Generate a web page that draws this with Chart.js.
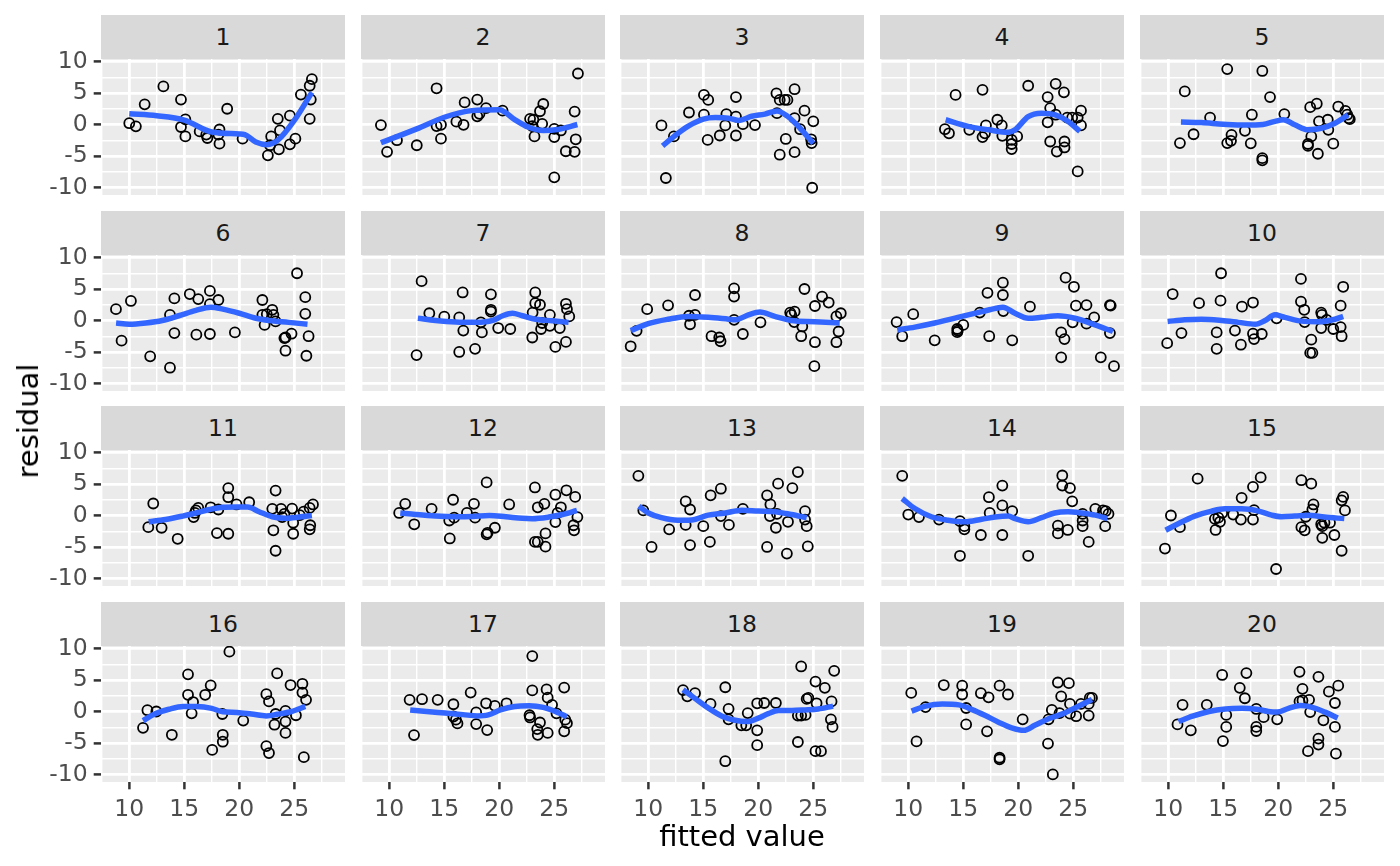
<!DOCTYPE html>
<html>
<head>
<meta charset="utf-8">
<script src="https://cdn.jsdelivr.net/npm/chart.js@4.4.1/dist/chart.umd.min.js"></script>
<style>
    html, body { margin: 0; background: #ffffff; }
    #plot { position: relative; width: 1400px; height: 866px; overflow: hidden; font-family: 'DejaVu Sans', sans-serif; }
    .strip { position: absolute; background: #D9D9D9; color: #1A1A1A; font-size: 23.5px; display: flex; align-items: center; justify-content: center; }
    canvas { position: absolute; }
    .title { position: absolute; color: #000000; font-size: 29px; white-space: nowrap; transform: translate(-50%, -50%); }
</style>
</head>
<body>
<div id="plot"></div>
<script>
// fitted values (x) and residuals (y) per panel, plus the smooth curve
const fit01 = [10.0, 10.6, 11.4, 13.1, 14.7, 14.7, 15.1, 15.1, 16.4, 17.0, 17.1, 18.1, 18.2, 18.2, 18.9, 20.3, 22.6, 22.8, 22.9, 23.5, 23.6, 23.7, 24.6, 24.6, 25.1, 25.6, 26.4, 26.6, 26.5, 26.4]
const res01 = [0.2, -0.3, 3.2, 6.05, 3.95, -0.4, 0.8, -1.9, -1.1, -1.6, -2.15, -1.6, -0.8, -3.05, 2.5, -2.25, -4.9, -3.3, -1.9, 0.9, -3.95, -0.95, 1.4, -3.15, -2.25, 4.75, 6.15, 7.2, 3.95, 0.9]
const smx01 = [10.0, 12.5, 15.0, 17.5, 20.0, 20.5, 21.5, 22.5, 23.5, 25.1, 26.6]
const smy01 = [1.7, 1.4, 0.7, -1.2, -1.5, -1.6, -2.8, -3.2, -2.5, 0.9, 5.1]

const fit02 = [9.24, 9.8, 10.7, 12.5, 14.3, 14.3, 14.7, 14.7, 16.1, 16.75, 16.85, 18.0, 18.0, 18.2, 18.8, 20.3, 22.8, 23.0, 23.1, 23.2, 23.7, 24.0, 23.9, 25.0, 25.0, 25.0, 25.6, 26.05, 26.85, 26.95, 26.85, 27.15]
const res02 = [-0.1, -4.35, -2.5, -3.3, 5.75, -0.25, -0.05, -2.25, 0.45, -0.05, 3.5, 3.95, 1.3, 1.7, 2.6, 2.2, 0.9, -0.25, 0.75, -1.9, 2.1, 3.25, 0.1, -0.7, -2.0, -8.4, -0.95, -4.25, -4.35, -2.35, 2.05, 8.1]
const smx02 = [9.24, 12.5, 15.0, 17.5, 20.0, 21.3, 22.6, 24.0, 25.3, 27.1]
const smy02 = [-2.9, -0.7, 1.15, 2.2, 2.35, 0.9, -0.4, -0.95, -0.8, 0.0]

const fit03 = [11.2, 12.33, 11.6, 13.7, 15.06, 15.45, 15.06, 15.4, 16.5, 17.0, 17.1, 17.97, 17.97, 17.97, 18.6, 19.7, 21.65, 21.7, 21.95, 22.4, 22.65, 23.3, 23.3, 24.2, 25.0, 23.8, 22.5, 21.95, 23.3, 24.8, 24.85, 24.9]
const res03 = [-0.15, -1.9, -8.5, 1.9, 4.7, 3.9, 1.55, -2.45, -1.75, -0.15, 1.65, 4.35, 1.25, -1.75, 0.05, -0.1, 4.95, 1.8, 3.9, 3.9, 3.9, 5.6, 1.0, 2.2, 0.5, -0.75, -2.3, -4.8, -4.4, -2.35, -2.95, -10.05]
const smx03 = [11.3, 12.4, 13.6, 15.0, 16.1, 17.3, 18.2, 19.4, 20.6, 21.7, 22.7, 23.8, 25.0]
const smy03 = [-3.4, -1.8, -0.3, 0.85, 1.1, 1.0, 0.65, 1.3, 1.65, 2.15, 1.25, -0.6, -3.0]

const fit04 = [13.33, 13.7, 14.3, 15.55, 16.75, 16.75, 16.97, 17.06, 18.1, 18.5, 18.55, 19.4, 19.4, 19.4, 19.9, 20.9, 22.67, 23.4, 24.15, 22.9, 23.4, 22.67, 24.45, 24.9, 25.4, 25.7, 25.7, 22.9, 23.5, 24.2, 24.2, 25.4]
const res04 = [-0.75, -1.4, 4.7, -0.85, 5.5, -2.0, -1.4, -0.15, 0.75, -0.15, -1.8, -2.45, -3.1, -3.9, -1.9, 6.15, 4.35, 6.45, 5.1, 2.6, 1.55, 0.35, 1.1, 1.1, 1.1, 2.2, -0.15, -2.7, -4.3, -2.7, -3.65, -7.45]
const smx04 = [13.4, 15.45, 17.3, 19.1, 19.7, 20.9, 22.1, 23.3, 24.5, 25.6]
const smy04 = [0.75, -0.3, -0.85, -1.25, -0.85, 1.25, 1.8, 1.55, 0.5, -1.1]

const fit05 = [11.06, 11.5, 12.3, 13.8, 15.36, 15.36, 15.7, 15.75, 16.97, 17.6, 17.5, 18.55, 18.55, 18.55, 19.25, 20.55, 22.9, 23.5, 23.0, 22.7, 22.7, 23.6, 23.7, 24.5, 24.55, 25.0, 25.45, 26.1, 26.27, 26.4, 26.5]
const res05 = [-2.95, 5.25, -1.55, 1.1, 8.8, -2.95, -2.6, -1.65, -1.0, 1.55, -3.0, 8.5, -5.35, -5.7, 4.35, 1.65, 2.75, 3.3, -1.9, -3.1, -3.4, -4.65, 0.5, 0.75, -0.85, -3.05, 2.85, 2.15, 1.55, 1.0, 0.85]
const smx05 = [11.15, 13.0, 15.0, 16.97, 18.6, 19.7, 20.45, 21.5, 22.7, 23.9, 25.15, 26.35]
const smy05 = [0.4, 0.3, 0.05, -0.1, 0.0, 0.5, 0.75, -0.05, -0.85, -0.6, 0.2, 1.55]

const fit06 = [8.79, 9.3, 10.15, 11.9, 13.7, 13.7, 14.1, 14.1, 15.5, 16.27, 16.1, 17.33, 17.33, 18.1, 17.33, 19.6, 22.1, 22.1, 22.3, 22.5, 23.0, 23.1, 23.3, 24.1, 24.2, 24.2, 24.75, 25.25, 26.0, 26.0, 26.3, 26.1]
const res06 = [1.8, -3.2, 3.1, -5.7, 0.9, -7.5, 3.5, -2.0, 4.2, 3.4, -2.25, 4.7, 2.6, 3.25, -2.15, -1.9, 3.25, 0.9, -0.7, 1.0, 1.7, 0.9, -0.15, -2.8, -2.7, -4.8, -2.1, 7.5, 3.7, 1.05, -2.5, -5.6]
const smx06 = [8.8, 10.0, 11.5, 13.0, 14.5, 16.06, 17.4, 18.5, 20.0, 21.5, 22.7, 24.5, 26.2]
const smy06 = [-0.4, -0.6, -0.4, 0.0, 0.75, 1.6, 2.1, 1.8, 1.15, 0.35, 0.0, -0.3, -0.6]

const fit07 = [12.48, 12.94, 13.64, 15.0, 16.36, 16.67, 16.73, 16.36, 17.8, 18.33, 18.42, 19.24, 19.24, 19.24, 19.9, 21.0, 23.27, 23.27, 23.7, 23.03, 23.9, 23.8, 24.6, 24.6, 23.0, 25.1, 25.5, 26.06, 26.15, 26.36, 26.06]
const res07 = [-5.5, 6.25, 1.15, 0.6, 0.5, 4.45, -1.6, -5.0, -4.5, -0.3, -1.9, 4.15, 1.7, 1.4, -1.2, -1.35, 4.45, 2.75, 2.5, 1.25, -0.4, -1.35, 0.9, -0.85, -2.7, -4.2, -1.2, 2.65, 1.8, 0.65, -3.4]
const smx07 = [12.6, 14.2, 16.06, 17.9, 19.4, 20.3, 21.2, 22.1, 23.3, 24.8, 26.3]
const smy07 = [0.35, 0.0, -0.25, -0.3, 0.0, 0.75, 1.15, 0.75, 0.2, -0.05, -0.3]

const fit08 = [8.4, 8.94, 9.9, 11.8, 13.7, 13.8, 14.25, 14.25, 15.75, 16.45, 16.57, 17.8, 17.8, 17.8, 18.6, 20.2, 22.9, 23.3, 23.0, 23.27, 24.0, 23.9, 24.2, 25.15, 25.8, 26.4, 25.15, 25.1, 27.1, 27.5, 27.3, 27.1]
const res08 = [-4.1, -1.65, 1.8, 2.4, 0.75, -0.6, 4.05, 0.9, -2.5, -2.7, -3.3, 5.1, 3.8, 0.1, -2.15, -0.3, 1.25, 1.4, 0.9, -0.25, -0.95, -2.5, 5.0, 2.3, 3.8, 2.85, -3.45, -7.25, 0.65, 1.15, -1.75, -3.45]
const smx08 = [8.4, 10.0, 11.8, 13.6, 15.45, 17.3, 17.9, 19.1, 20.15, 21.5, 23.0, 25.15, 27.4]
const smy08 = [-1.6, -0.5, 0.2, 0.65, 0.5, 0.2, 0.1, 0.9, 1.35, 0.65, 0.0, -0.2, -0.4]

const fit09 = [8.94, 9.45, 10.45, 12.4, 14.45, 14.45, 14.5, 15.0, 16.5, 17.36, 17.2, 18.6, 18.6, 18.64, 19.45, 21.06, 24.3, 25.06, 25.24, 26.2, 24.94, 26.2, 26.9, 23.9, 24.2, 23.9, 27.5, 28.33, 28.4, 28.33, 28.7]
const res09 = [-0.25, -2.5, 1.0, -3.15, -1.35, -1.85, -1.6, -0.7, 1.25, -2.5, 4.4, 6.0, 4.05, 1.5, -3.15, 2.2, 6.8, 5.35, 2.35, 2.45, -0.3, -0.5, 0.5, -1.9, -2.95, -5.85, -5.85, 2.45, 2.35, -2.0, -7.25]
const smx09 = [9.0, 10.6, 12.4, 14.5, 16.67, 18.0, 18.6, 19.7, 20.9, 22.1, 23.6, 25.15, 26.97, 28.6]
const smy09 = [-1.5, -1.05, -0.4, 0.5, 1.4, 1.95, 2.1, 1.15, 0.35, 0.5, 0.75, 0.35, -0.7, -1.75]

const fit10 = [9.9, 10.4, 11.2, 12.8, 14.4, 14.4, 14.8, 14.75, 16.06, 16.6, 16.7, 17.7, 17.7, 17.8, 18.5, 19.85, 22.06, 22.06, 22.36, 22.4, 23.0, 22.9, 23.1, 23.9, 23.97, 24.4, 23.9, 25.0, 25.67, 25.9, 25.67, 25.76]
const res10 = [-3.6, 4.2, -2.0, 2.75, -1.9, -4.5, 7.5, 3.15, -1.6, -3.85, 2.2, 2.85, -2.1, -2.95, -2.15, 0.35, 6.6, 3.0, 1.7, -0.25, -3.05, -5.15, -5.15, 1.25, 0.9, 0.1, -1.2, -1.35, 2.35, 5.35, -1.05, -2.5]
const smx10 = [9.94, 11.5, 13.0, 14.85, 16.4, 17.9, 18.8, 19.7, 20.6, 22.1, 23.6, 25.15, 25.9]
const smy10 = [-0.15, 0.1, 0.2, 0.0, -0.3, -0.6, 0.0, 0.9, 0.5, -0.1, -0.2, 0.2, 0.65]

const fit11 = [11.73, 12.18, 12.94, 14.4, 15.85, 15.97, 16.06, 16.27, 17.4, 18.1, 17.97, 19.0, 19.0, 19.0, 19.75, 20.9, 23.0, 23.3, 23.1, 23.3, 23.8, 23.9, 24.1, 24.8, 24.9, 24.9, 25.5, 25.85, 26.4, 26.7, 26.45, 26.4]
const res11 = [-1.85, 1.9, -1.95, -3.7, -0.25, 0.4, 0.8, 1.2, 1.3, 0.95, -2.8, 4.35, 2.9, -2.9, 1.75, 2.1, 1.05, 3.95, -2.35, -5.6, 1.05, -0.25, 0.25, 1.1, -1.15, -2.9, 0.05, 0.6, 1.2, 1.75, -1.55, -2.2]
const smx11 = [11.76, 13.3, 14.85, 16.06, 17.3, 18.5, 19.7, 20.75, 21.8, 23.0, 24.2, 25.45, 26.6]
const smy11 = [-1.0, -0.65, -0.1, 0.4, 0.95, 1.3, 1.35, 1.35, 0.6, -0.2, -0.45, -0.25, 0.0]

const fit12 = [10.9, 11.45, 12.27, 13.85, 15.45, 15.5, 15.8, 15.9, 17.06, 17.7, 17.8, 18.85, 18.85, 18.94, 19.6, 20.9, 23.24, 23.5, 24.1, 23.24, 23.5, 24.2, 24.2, 25.1, 25.6, 25.3, 25.1, 26.1, 26.9, 27.1, 26.75, 26.8]
const res12 = [0.4, 1.85, -1.4, 1.05, -0.8, -3.65, 2.5, -0.35, 0.4, 1.85, -0.35, 5.25, -3.0, -2.75, -1.95, 1.75, 4.45, 1.3, 1.85, -4.2, -4.2, -2.85, -4.95, 3.3, 1.3, 0.4, -1.05, 4.0, 2.95, -0.25, -1.55, -2.35]
const smx12 = [11.0, 12.4, 14.2, 16.06, 17.6, 19.1, 20.6, 22.1, 23.0, 24.5, 25.75, 27.06]
const smy12 = [0.4, 0.15, -0.1, -0.2, -0.15, 0.0, -0.2, -0.45, -0.5, -0.25, 0.15, 0.8]

const fit13 = [9.1, 9.55, 10.3, 11.9, 13.4, 13.4, 13.8, 13.8, 15.0, 15.6, 15.67, 16.6, 16.6, 17.33, 18.6, 20.8, 21.1, 21.06, 21.7, 21.8, 21.6, 22.7, 23.1, 23.6, 20.8, 22.6, 24.25, 24.25, 24.4, 24.5]
const res13 = [6.3, 0.8, -5.0, -2.2, 2.25, -1.5, 0.95, -4.7, -1.7, -4.2, 3.2, 4.25, -0.1, -1.5, 1.05, 3.2, 1.75, -0.1, 0.25, 5.05, -1.95, -1.0, 4.35, 6.9, -5.0, -6.05, 0.7, -0.65, -1.7, -4.9]
const smx13 = [9.15, 10.0, 11.2, 12.7, 13.94, 15.45, 17.0, 18.5, 20.0, 21.5, 23.0, 24.4]
const smy13 = [1.45, 0.4, -0.35, -0.75, -0.7, 0.05, 0.4, 0.85, 0.7, 0.6, 0.15, -0.35]

const fit14 = [9.45, 10.0, 10.97, 12.8, 14.7, 14.7, 15.1, 15.1, 16.6, 17.33, 17.4, 18.55, 18.55, 18.55, 19.45, 20.9, 24.0, 24.0, 24.7, 24.9, 23.6, 23.6, 24.5, 25.85, 25.85, 25.85, 26.4, 27.0, 27.7, 27.95, 28.2, 27.9]
const res14 = [6.3, 0.15, -0.25, -0.65, -0.9, -6.4, -1.7, -2.2, -3.1, 2.9, 0.4, 4.75, 1.6, -3.1, 0.7, -6.4, 6.35, 4.75, 4.35, 2.25, -1.6, -2.85, -2.3, 0.25, -0.8, -1.7, -4.2, 1.05, 0.8, 0.7, 0.25, -1.7]
const smx14 = [9.45, 10.6, 12.1, 13.6, 15.15, 16.67, 17.9, 19.1, 19.7, 20.9, 22.1, 23.3, 24.5, 25.75, 27.0, 28.1]
const smy14 = [2.7, 1.1, -0.2, -0.75, -1.0, -0.6, -0.25, -0.1, -0.5, -1.0, -0.35, 0.4, 0.6, 0.4, 0.05, -0.5]

const fit15 = [9.7, 10.24, 11.06, 12.67, 14.24, 14.3, 14.55, 14.7, 14.9, 15.9, 16.6, 16.67, 17.7, 18.4, 17.8, 17.7, 19.8, 22.1, 23.0, 23.2, 23.1, 22.5, 22.1, 22.4, 23.9, 24.0, 24.2, 24.7, 24.0, 25.1, 25.76, 25.76, 25.9, 26.06]
const res15 = [-5.25, 0.0, -1.85, 5.85, -0.55, -2.3, -0.35, -1.0, 0.4, 0.15, -0.65, 2.8, 4.55, 6.05, 0.85, -0.65, -8.5, 5.6, 5.05, 1.75, 0.95, -0.2, -1.85, -2.35, -1.4, -1.7, -1.15, -1.15, -3.55, -3.1, -5.6, 2.4, 2.95, 0.8]
const smx15 = [9.76, 10.9, 12.4, 13.94, 15.15, 16.67, 18.2, 19.4, 20.3, 21.5, 22.7, 24.2, 26.0]
const smy15 = [-2.35, -1.3, -0.1, 0.7, 1.05, 1.05, 0.7, 0.05, -0.2, -0.1, 0.05, -0.25, -0.5]

const fit16 = [11.25, 11.65, 12.46, 13.87, 15.34, 15.34, 15.8, 15.67, 16.9, 17.4, 17.54, 18.46, 18.5, 18.5, 19.1, 20.36, 22.46, 22.7, 22.46, 22.7, 23.2, 23.3, 23.44, 24.2, 24.2, 24.2, 24.66, 25.15, 25.74, 25.74, 26.07, 25.87]
const res16 = [-2.6, 0.2, 0.0, -3.7, 5.9, 2.65, 1.5, -0.3, 2.65, 4.15, -6.1, -0.4, -3.7, -4.8, 9.5, -1.45, 2.75, 1.6, -5.5, -6.6, -2.1, -0.4, 6.05, 0.1, -1.6, -3.4, 4.2, -0.6, 4.4, 3.0, 1.85, -7.25]
const smx16 = [11.25, 12.3, 13.6, 14.9, 16.2, 17.5, 18.5, 19.8, 21.1, 22.46, 23.44, 24.75, 26.0]
const smy16 = [-1.45, -0.4, 0.35, 0.8, 0.8, 0.5, -0.05, -0.15, -0.4, -0.7, -0.45, 0.0, 0.8]

const fit17 = [11.85, 12.25, 12.98, 14.4, 15.83, 15.83, 16.06, 16.2, 17.4, 17.9, 17.9, 18.8, 18.9, 19.6, 20.66, 22.75, 22.8, 23.0, 23.0, 23.7, 23.45, 23.5, 24.3, 24.4, 24.4, 24.8, 25.2, 25.9, 26.0, 25.9, 26.15]
const res17 = [1.85, -3.75, 1.95, 1.85, 1.15, -0.8, -1.3, -1.9, 3.0, -0.15, -2.0, 1.3, -2.95, 0.9, 1.3, -0.6, -0.95, 8.8, 3.35, -1.75, -2.8, -3.7, 3.5, 2.2, -3.4, 1.05, -0.3, 3.8, -1.3, -3.15, -1.85]
const smx17 = [11.9, 13.4, 15.07, 16.7, 18.0, 19.0, 20.1, 21.4, 22.7, 24.0, 25.3, 26.15]
const smy17 = [0.25, 0.0, -0.25, -0.5, -0.7, -0.55, 0.25, 0.8, 0.9, 0.65, -0.15, -0.85]

const fit18 = [13.16, 13.55, 14.25, 15.66, 17.0, 17.3, 17.3, 17.0, 18.46, 18.9, 19.04, 19.9, 20.54, 19.9, 19.9, 21.6, 23.6, 23.6, 23.9, 24.3, 24.4, 24.55, 23.9, 25.2, 25.3, 26.05, 25.2, 25.7, 26.9, 26.66, 26.6, 26.75]
const res18 = [3.4, 2.4, 2.9, 1.2, 3.85, 0.4, -1.25, -7.9, -2.2, -2.2, -0.25, 1.3, 1.35, -3.0, -5.35, 1.35, -4.85, -0.65, -0.65, -0.55, 2.0, 2.15, 7.15, 4.75, 1.3, 3.75, -6.3, -6.3, 6.45, 1.6, -1.25, -2.45]
const smx18 = [13.16, 14.3, 15.5, 16.7, 17.9, 18.98, 20.0, 20.9, 21.84, 23.04, 24.25, 25.45, 26.8]
const smy18 = [3.45, 2.0, 0.5, -0.75, -1.4, -1.6, -1.05, -0.35, 0.15, 0.15, 0.25, 0.4, 0.85]

const fit19 = [10.27, 10.75, 11.57, 13.23, 14.9, 14.9, 15.26, 15.26, 16.6, 17.3, 17.16, 18.3, 19.06, 18.3, 18.3, 20.4, 22.7, 22.75, 23.05, 23.14, 23.6, 24.6, 23.9, 23.75, 24.7, 24.7, 25.26, 25.7, 26.4, 26.4, 26.5, 26.7]
const res19 = [2.95, -4.75, 0.7, 4.2, 4.1, 2.7, 0.55, -2.05, 2.9, 2.25, -3.15, 4.1, 2.7, -7.35, -7.6, -1.25, -5.1, -1.25, 0.25, -10.0, 4.6, 4.5, 2.4, -0.25, 1.2, -0.35, -0.75, 1.2, -0.65, 1.2, 2.15, 2.15]
const smx19 = [10.3, 11.57, 13.1, 14.6, 15.8, 17.0, 18.2, 19.4, 20.5, 21.5, 22.75, 24.26, 25.6, 26.7]
const smy19 = [0.05, 0.85, 1.2, 1.05, 0.3, -0.65, -1.7, -2.6, -3.0, -2.2, -1.15, -0.2, 0.95, 1.9]

const fit20 = [10.84, 11.3, 12.05, 13.5, 14.9, 14.97, 15.27, 15.27, 16.5, 16.96, 17.1, 18.0, 18.0, 18.0, 18.67, 19.9, 21.93, 22.2, 21.93, 22.2, 22.8, 22.9, 23.65, 24.6, 25.45, 25.15, 24.1, 25.15, 23.65, 23.65, 22.7, 25.24]
const res20 = [-2.05, 1.05, -3.0, 1.05, 5.8, -4.7, -0.55, -2.45, 3.75, 2.1, 6.1, 0.4, -2.45, -3.1, -0.9, -1.25, 6.3, 3.6, 1.6, 1.75, 1.85, -0.1, 5.5, 3.15, 4.1, 1.35, -1.4, -2.45, -4.3, -5.25, -6.3, -6.7]
const smx20 = [10.93, 12.2, 13.7, 15.2, 16.7, 18.2, 19.1, 19.9, 20.93, 22.0, 23.0, 24.25, 25.4]
const smy20 = [-1.6, -0.75, 0.0, 0.4, 0.5, 0.3, 0.0, -0.1, 0.5, 0.95, 0.7, -0.1, -1.05]

const panelLabels = ['1', '2', '3', '4', '5', '6', '7', '8', '9', '10', '11', '12', '13', '14', '15', '16', '17', '18', '19', '20']
const xTicks = [10, 15, 20, 25]
const xMinor = [7.5, 12.5, 17.5, 22.5, 27.5]
const yTicks = [-10, -5, 0, 5, 10]
const yMinor = [-7.5, -2.5, 2.5, 7.5]
const xTitle = 'fitted value'
const yTitle = 'residual'

const panels = [
    [fit01, res01, smx01, smy01], [fit02, res02, smx02, smy02], [fit03, res03, smx03, smy03], [fit04, res04, smx04, smy04], [fit05, res05, smx05, smy05],
    [fit06, res06, smx06, smy06], [fit07, res07, smx07, smy07], [fit08, res08, smx08, smy08], [fit09, res09, smx09, smy09], [fit10, res10, smx10, smy10],
    [fit11, res11, smx11, smy11], [fit12, res12, smx12, smy12], [fit13, res13, smx13, smy13], [fit14, res14, smx14, smy14], [fit15, res15, smx15, smy15],
    [fit16, res16, smx16, smy16], [fit17, res17, smx17, smy17], [fit18, res18, smx18, smy18], [fit19, res19, smx19, smy19], [fit20, res20, smx20, smy20],
]

// layout, in page pixels
const colLefts = [101, 361, 620, 880, 1140]
const rowTops = [59, 255, 450, 646]
const panelW = 244, panelH = 136, stripH = 44
const padL = 80, padR = 30, padT = 30, padB = 60
const xRange = [7.43, 29.61], yRange = [-11.2, 10.4]

Chart.defaults.font.family = "'DejaVu Sans', sans-serif"

const panelBg = {
    id: 'panelBg',
    beforeDraw(chart) {
        const {ctx, chartArea: a} = chart
        ctx.save()
        ctx.fillStyle = '#EBEBEB'
        ctx.fillRect(a.left, a.top, a.right - a.left, a.bottom - a.top)
        ctx.restore()
    }
}

const isMajor = (ticks, v) => ticks.includes(v)

function axisOptions(range, major, minor, showLabels, fitSize) {
    const all = [...major, ...minor].sort((a, b) => a - b)
    return {
        type: 'linear',
        min: range[0],
        max: range[1],
        afterBuildTicks: (scale) => { scale.ticks = all.map((v) => ({value: v})) },
        afterFit: fitSize,
        border: {display: false},
        grid: {
            color: '#FFFFFF',
            lineWidth: (ctx) => (ctx.tick && isMajor(major, ctx.tick.value)) ? 2.8 : 1.4,
            drawTicks: true,
            tickLength: 7.3,
            tickWidth: 2.5,
            tickColor: (ctx) => (showLabels && ctx.tick && isMajor(major, ctx.tick.value)) ? '#333333' : 'rgba(0,0,0,0)',
        },
        ticks: {
            display: showLabels,
            autoSkip: false,
            maxRotation: 0,
            minRotation: 0,
            padding: 6,
            color: '#4D4D4D',
            font: {size: 23.5},
            callback: (v) => isMajor(major, v) ? String(v) : '',
        },
    }
}

const plot = document.getElementById('plot')

panels.forEach(([fx, ry, sx, sy], i) => {
    const r = Math.floor(i / 5), c = i % 5
    const left = colLefts[c], top = rowTops[r]

    const strip = document.createElement('div')
    strip.className = 'strip'
    strip.textContent = panelLabels[i]
    Object.assign(strip.style, {left: left + 'px', top: (top - stripH) + 'px', width: panelW + 'px', height: stripH + 'px'})
    plot.appendChild(strip)

    const canvas = document.createElement('canvas')
    canvas.width = padL + panelW + padR
    canvas.height = padT + panelH + padB
    Object.assign(canvas.style, {left: (left - padL) + 'px', top: (top - padT) + 'px'})
    plot.appendChild(canvas)

    const points = fx.map((x, k) => ({x: x, y: ry[k]}))
    const smooth = sx.map((x, k) => ({x: x, y: sy[k]}))

    new Chart(canvas, {
        type: 'scatter',
        data: {
            datasets: [
                {
                    type: 'line',
                    data: smooth,
                    borderColor: '#3366FF',
                    borderWidth: 5.5,
                    pointRadius: 0,
                    fill: false,
                    cubicInterpolationMode: 'monotone',
                    order: 0,
                },
                {
                    type: 'scatter',
                    data: points,
                    pointRadius: 5,
                    borderWidth: 1.8,
                    pointBorderWidth: 1.8,
                    borderColor: '#000000',
                    backgroundColor: 'rgba(0,0,0,0)',
                    order: 1,
                },
            ]
        },
        options: {
            responsive: false,
            animation: false,
            devicePixelRatio: 1,
            events: [],
            layout: {padding: {top: padT, right: padR, left: 0, bottom: 0}},
            plugins: {legend: {display: false}, tooltip: {enabled: false}},
            scales: {
                x: axisOptions(xRange, xTicks, xMinor, r === 3, (s) => { s.height = padB }),
                y: axisOptions(yRange, yTicks, yMinor, c === 0, (s) => { s.width = padL }),
            },
        },
        plugins: [panelBg],
    })
})

const xt = document.createElement('div')
xt.className = 'title'
xt.textContent = xTitle
Object.assign(xt.style, {left: '742px', top: '836px'})
plot.appendChild(xt)

const yt = document.createElement('div')
yt.className = 'title'
yt.textContent = yTitle
Object.assign(yt.style, {left: '28px', top: '421px', transform: 'translate(-50%, -50%) rotate(-90deg)'})
plot.appendChild(yt)
</script>
</body>
</html>
